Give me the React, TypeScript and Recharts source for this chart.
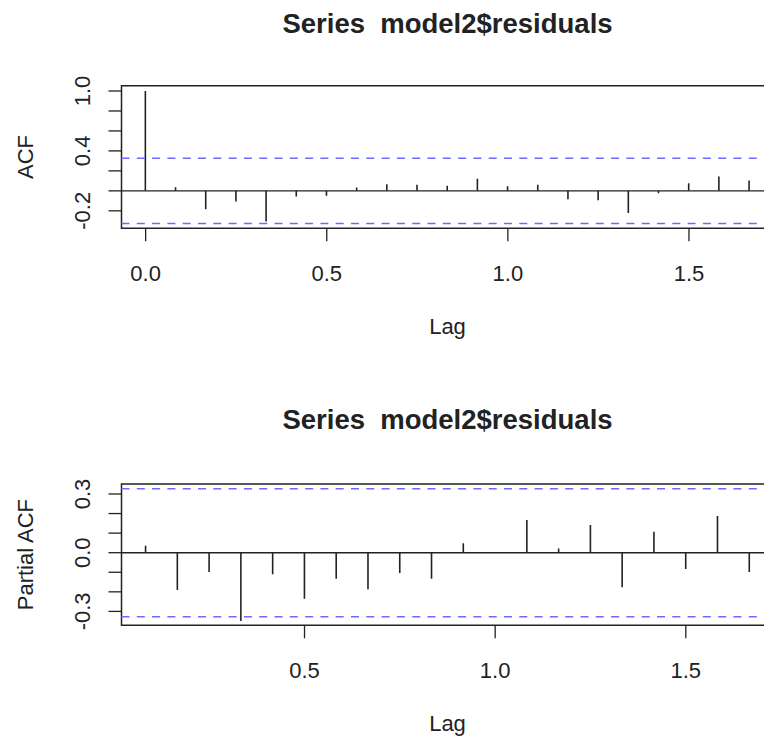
import React from 'react';
import {
  ComposedChart,
  Bar,
  XAxis,
  YAxis,
  ReferenceLine,
  ReferenceArea,
} from 'recharts';

// lags are in months (frequency 12), so lag 12 = 1.0 on the axis
const acfLags = [0, 1, 2, 3, 4, 5, 6, 7, 8, 9, 10, 11, 12, 13, 14, 15, 16, 17, 18, 19, 20];
const acfValues = [
  1.0, 0.037, -0.183, -0.107, -0.307, -0.057, -0.05, 0.033, 0.067, 0.06, 0.05,
  0.12, 0.047, 0.06, -0.083, -0.093, -0.223, -0.025, 0.077, 0.143, 0.103,
];
const pacfLags = [1, 2, 3, 4, 5, 6, 7, 8, 9, 10, 11, 12, 13, 14, 15, 16, 17, 18, 19, 20];
const pacfValues = [
  0.036, -0.191, -0.099, -0.349, -0.11, -0.235, -0.133, -0.187, -0.104, -0.133,
  0.048, 0.003, 0.167, 0.022, 0.142, -0.177, 0.107, -0.083, 0.188, -0.099,
];
const confLimit = 0.327;

const acfXTicks = [0, 6, 12, 18];
const acfXLabels = ['0.0', '0.5', '1.0', '1.5'];
const pacfXTicks = [6, 12, 18];
const pacfXLabels = ['0.5', '1.0', '1.5'];
const acfYTicks = [-0.2, 0, 0.2, 0.4, 0.6, 0.8, 1.0];
const acfYLabels = ['-0.2', '', '', '0.4', '', '', '1.0'];
const pacfYTicks = [-0.3, -0.2, -0.1, 0, 0.1, 0.2, 0.3];
const pacfYLabels = ['-0.3', '', '', '0.0', '', '', '0.3'];

const titleText = 'Series  model2$residuals';

const FONT = '"Liberation Sans", Arial, Helvetica, sans-serif';
const INK = '#222';
const BLUE = '#6b6bff';

const acfData = acfLags.map((lag, i) => ({ lag, value: acfValues[i] }));
const pacfData = pacfLags.map((lag, i) => ({ lag, value: pacfValues[i] }));

interface PanelProps {
  data: { lag: number; value: number }[];
  xDomain: [number, number];
  yDomain: [number, number];
  xTicks: number[];
  xLabels: string[];
  yTicks: number[];
  yLabels: string[];
  top: number;
  height: number;
  plotTop: number;
  plotBottom: number;
}

function Panel({ data, xDomain, yDomain, xTicks, xLabels, yTicks, yLabels, top, height, plotTop, plotBottom }: PanelProps) {
  const chartWidth = 790;
  const plotLeft = 121.5;
  const plotWidth = 652;
  const xAxisHeight = 40;

  const renderXTick = (props: any) => {
    const { x, y, payload } = props;
    const idx = xTicks.indexOf(payload.value);
    return (
      <text x={x} y={y + 39.4} textAnchor="middle" fontFamily={FONT} fontSize={22} fill={INK}>
        {xLabels[idx]}
      </text>
    );
  };

  const renderYTick = (props: any) => {
    const { y, payload } = props;
    const idx = yTicks.findIndex((t) => Math.abs(t - payload.value) < 1e-9);
    const label = yLabels[idx];
    if (!label) return <g />;
    return (
      <text
        transform={`translate(90,${y}) rotate(-90)`}
        textAnchor="middle"
        fontFamily={FONT}
        fontSize={22}
        fill={INK}
      >
        {label}
      </text>
    );
  };

  return (
    <div style={{ position: 'absolute', left: 0, top, width: chartWidth, height }}>
      <ComposedChart
        width={chartWidth}
        height={height}
        data={data}
        margin={{
          top: plotTop,
          right: chartWidth - plotLeft - plotWidth,
          bottom: height - plotBottom - xAxisHeight,
          left: 0,
        }}
      >
        <XAxis
          dataKey="lag"
          type="number"
          domain={xDomain}
          allowDataOverflow
          ticks={xTicks}
          tick={renderXTick}
          tickSize={13}
          tickMargin={0}
          tickLine={{ stroke: INK, strokeWidth: 1.3 }}
          axisLine={false}
          height={xAxisHeight}
          interval={0}
        />
        <YAxis
          type="number"
          domain={yDomain}
          allowDataOverflow
          ticks={yTicks}
          tick={renderYTick}
          tickSize={13}
          tickMargin={0}
          tickLine={{ stroke: INK, strokeWidth: 1.3 }}
          axisLine={false}
          width={plotLeft}
          interval={0}
        />
        <ReferenceArea
          x1={xDomain[0]}
          x2={xDomain[1]}
          y1={yDomain[0]}
          y2={yDomain[1]}
          fill="none"
          fillOpacity={0}
          stroke={INK}
          strokeWidth={1.5}
        />
        <ReferenceLine y={0} stroke={INK} strokeWidth={1.4} />
        <ReferenceLine y={confLimit} stroke={BLUE} strokeWidth={1.6} strokeDasharray="8 7.3" />
        <ReferenceLine y={-confLimit} stroke={BLUE} strokeWidth={1.6} strokeDasharray="8 7.3" />
        <Bar dataKey="value" fill={INK} barSize={1.6} isAnimationActive={false} />
      </ComposedChart>
    </div>
  );
}

export default function App() {
  const centerX = 447.5;
  return (
    <div
      style={{
        position: 'absolute',
        left: 0,
        top: 0,
        width: 764,
        height: 737,
        overflow: 'hidden',
        background: '#fff',
      }}
    >
      <Panel
        data={acfData}
        xDomain={[-0.8, 20.8]}
        yDomain={[-0.375, 1.053]}
        xTicks={acfXTicks}
        xLabels={acfXLabels}
        yTicks={acfYTicks}
        yLabels={acfYLabels}
        top={0}
        height={368}
        plotTop={85.7}
        plotBottom={228.3}
      />
      <Panel
        data={pacfData}
        xDomain={[0.24, 20.76]}
        yDomain={[-0.371, 0.351]}
        xTicks={pacfXTicks}
        xLabels={pacfXLabels}
        yTicks={pacfYTicks}
        yLabels={pacfYLabels}
        top={368}
        height={369}
        plotTop={116}
        plotBottom={257.3}
      />
      <svg
        width={764}
        height={737}
        style={{ position: 'absolute', left: 0, top: 0, pointerEvents: 'none' }}
      >
        <g fontFamily={FONT} fill={INK}>
          <text x={centerX} y={33} textAnchor="middle" fontSize={27.5} fontWeight="bold" style={{ whiteSpace: 'pre' }}>
            {titleText}
          </text>
          <text x={centerX} y={428.5} textAnchor="middle" fontSize={27.5} fontWeight="bold" style={{ whiteSpace: 'pre' }}>
            {titleText}
          </text>
          <text x={centerX} y={334.3} textAnchor="middle" fontSize={22}>
            Lag
          </text>
          <text x={centerX} y={731.3} textAnchor="middle" fontSize={22}>
            Lag
          </text>
          <text transform="translate(33.3,157) rotate(-90)" textAnchor="middle" fontSize={22}>
            ACF
          </text>
          <text transform="translate(33.3,554.6) rotate(-90)" textAnchor="middle" fontSize={22}>
            Partial ACF
          </text>
        </g>
      </svg>
    </div>
  );
}
